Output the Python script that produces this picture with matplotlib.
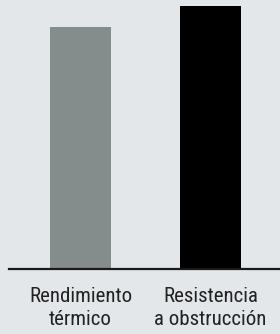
import matplotlib
matplotlib.use("Agg")
import matplotlib.pyplot as plt
from matplotlib import font_manager

categories = ["Rendimiento\ntérmico", "Resistencia\na obstrucción"]
values = [92, 100]
colors = ["#858c8c", "#000000"]

names = {f.name for f in font_manager.fontManager.ttflist}
fam = "DejaVu Sans"
for cand in ["Roboto Condensed", "PT Sans Narrow", "Archivo Narrow",
             "Barlow Semi Condensed", "Open Sans Condensed", "Liberation Sans Narrow"]:
    if cand in names:
        fam = cand
        break

W, H = 280, 334
fig = plt.figure(figsize=(W / 100, H / 100), dpi=100)
bg = "#e3e7ea"
fig.patch.set_facecolor(bg)
ax = fig.add_axes([9 / W, 65 / H, 271 / W, 269 / H])
ax.set_facecolor(bg)

x = list(range(len(categories)))
ax.bar(x, values, width=61 / 130, color=colors)
ax.set_xlim(-(80.5 - 9) / 130, (280 - 80.5) / 130)
ax.set_ylim(0, 100 * 269 / 263)

for s in ["top", "right", "left"]:
    ax.spines[s].set_visible(False)
ax.spines["bottom"].set_linewidth(1.6)
ax.spines["bottom"].set_color("#1a1a1a")
ax.set_yticks([])
ax.set_xticks(x)
ax.set_xticklabels(categories, fontsize=15, family=fam, color="#222222",
                   linespacing=1.25)
ax.tick_params(axis="x", length=0, pad=13)

fig.savefig("out.png", dpi=100, facecolor=bg)
